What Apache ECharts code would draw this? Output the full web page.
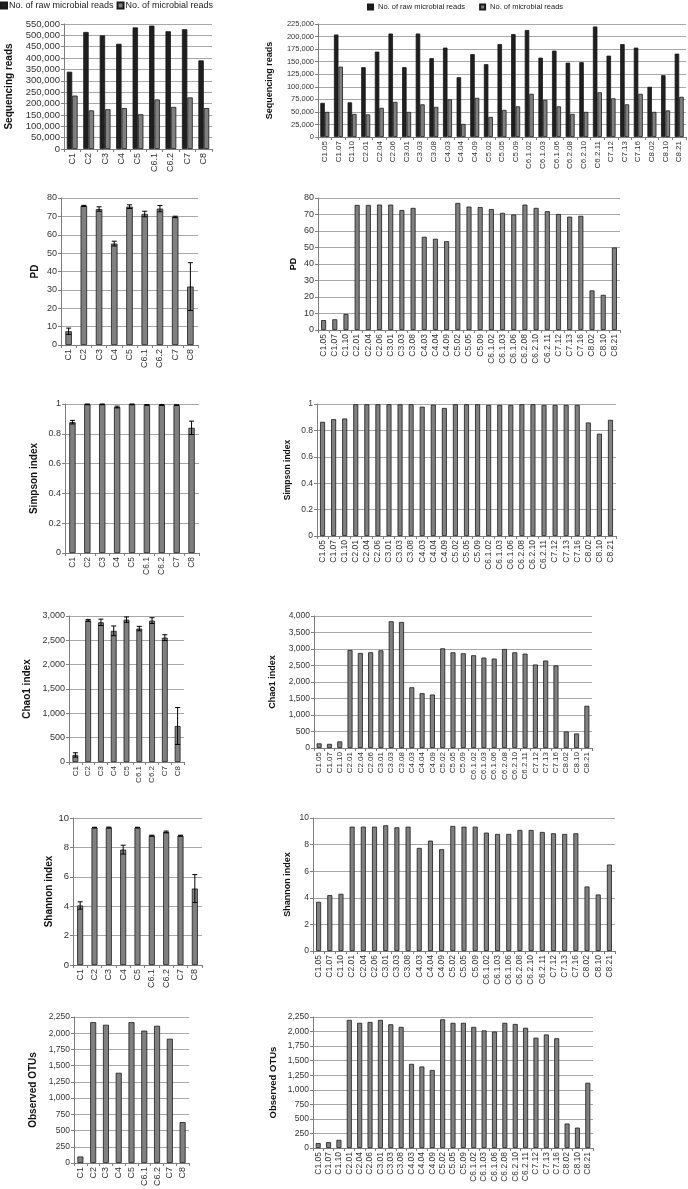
<!DOCTYPE html>
<html><head><meta charset="utf-8">
<script src="https://cdn.jsdelivr.net/npm/echarts@6/dist/echarts.min.js"></script>
<style>html,body{margin:0;padding:0;background:#fff}#c{width:688px;height:1189px}</style>
</head><body><div id="c"></div>
<script>
// ---------- DATA ----------
const groups = ['C1','C2','C3','C4','C5','C6.1','C6.2','C7','C8'];
const samples = ['C1.05','C1.07','C1.10','C2.01','C2.04','C2.06','C3.01','C3.03','C3.08','C4.03','C4.04','C4.09','C5.02','C5.05','C5.09','C6.1.02','C6.1.03','C6.1.06','C6.2.08','C6.2.10','C6.2.11','C7.12','C7.13','C7.16','C8.02','C8.10','C8.21'];
const seriesNames = ['No. of raw microbial reads','No. of microbial reads'];

const rawGroup   = [340000,515000,500000,463000,535000,543000,518000,527000,390000];
const microGroup = [235000,170000,175000,180000,153000,218000,185000,227000,180000];
const rawSample   = [68000,204000,69000,139000,170000,206000,139000,206000,157000,178000,119000,165000,145000,185000,205000,213000,158000,172000,148000,149000,220000,162000,185000,178000,100000,123000,166000];
const microSample = [50000,140000,46000,45000,58000,70000,50000,65000,60000,75000,26000,78000,40000,54000,61000,86000,74000,61000,46000,50000,89000,77000,65000,86000,50000,53000,80000];

const pdGroup    = [7.5,75.7,74,55.2,75.3,71.3,74.2,69.7,31.8];
const pdGroupErr = [1.7,0.3,1.2,1.3,1.0,1.5,1.7,0.4,13];
const pdSample   = [6,6.5,9.7,75.8,75.8,76,76,72.7,74,56.5,55.3,53.8,77,74.8,74.5,73.3,71,70,76,74,72,70.3,68.7,69.2,24,21.3,50];

const simpsonGroup    = [0.878,0.998,0.998,0.98,0.998,0.994,0.994,0.993,0.84];
const simpsonGroupErr = [0.012,0.002,0.002,0.006,0.002,0.002,0.003,0.002,0.045];
const simpsonSample   = [0.865,0.885,0.89,0.998,0.998,0.998,0.998,0.998,0.998,0.98,0.995,0.97,0.998,0.998,0.998,0.993,0.993,0.993,0.998,0.998,0.993,0.993,0.993,0.993,0.86,0.775,0.88];

const chaoGroup    = [145,2910,2870,2695,2925,2742,2905,2555,740];
const chaoGroupErr = [45,20,65,100,55,45,60,60,380];
const chaoSample   = [140,125,200,2970,2880,2900,2960,3840,3820,1840,1660,1620,3020,2900,2870,2810,2740,2710,3000,2900,2860,2530,2650,2500,500,440,1280];

const shannonGroup    = [4.05,9.35,9.35,7.85,9.35,8.8,9.05,8.8,5.2];
const shannonGroupErr = [0.25,0.02,0.03,0.3,0.02,0.03,0.06,0.03,0.95];
const shannonSample   = [3.7,4.2,4.3,9.35,9.35,9.35,9.45,9.3,9.35,7.75,8.3,7.65,9.4,9.35,9.35,8.9,8.8,8.8,9.1,9.1,8.95,8.85,8.8,8.85,4.85,4.25,6.5];

const otuGroup  = [100,2170,2130,1390,2170,2040,2115,1915,630];
const otuSample = [85,100,140,2200,2150,2165,2200,2125,2080,1445,1400,1340,2210,2150,2150,2080,2020,2000,2150,2130,2065,1895,1950,1885,420,350,1120];

// ---------- CHART ----------
const FONT = '"Liberation Sans", Arial, sans-serif';
const GRAY = '#808080', BLACK = '#1f1f1f', EDGE = '#1a1a1a';
const grids = [], xAxes = [], yAxes = [], series = [];
function fmt(v){ return v >= 1000 ? v.toLocaleString('en-US') : String(v); }

function addPanel(rect, cats, y, xfs){
  const i = grids.length;
  grids.push({left:rect[0], top:rect[1], width:rect[2], height:rect[3]});
  xAxes.push({type:'category', gridIndex:i, data:cats,
    axisLine:{lineStyle:{color:'#7f7f7f'}},
    axisTick:{show:true, alignWithLabel:false, interval:0, length:3, lineStyle:{color:'#7f7f7f'}},
    axisLabel:{rotate:90, interval:0, fontSize:xfs, color:'#333', fontFamily:FONT, margin:4},
    splitLine:{show:false}});
  yAxes.push({type:'value', gridIndex:i, min:0, max:y.max, interval:y.interval,
    name:y.name, nameLocation:'middle', nameRotate:90, nameGap:y.gap,
    nameTextStyle:{fontWeight:'bold', fontSize:y.nfs, fontFamily:FONT, color:'#111'},
    axisLine:{show:true, lineStyle:{color:'#7f7f7f'}},
    axisTick:{show:true, length:3, lineStyle:{color:'#7f7f7f'}},
    axisLabel:{fontSize:y.fs, color:'#333', fontFamily:FONT, margin:4, formatter:fmt},
    splitLine:{show:true, lineStyle:{color:'#a8a8a8', width:1}}});
  return i;
}
function bar(i, data, color, width, name){
  series.push({type:'bar', name:name, xAxisIndex:i, yAxisIndex:i, data:data, barWidth:width, barGap:'0%',
    itemStyle:{color:color, borderColor:EDGE, borderWidth:0.8}, silent:true, animation:false});
}
function errBars(i, vals, errs){
  series.push({type:'custom', xAxisIndex:i, yAxisIndex:i, silent:true, animation:false, z:10,
    data: vals.map((v,k)=>[k, v-errs[k], v+errs[k]]),
    renderItem(params, api){
      const lo = api.coord([api.value(0), api.value(1)]);
      const hi = api.coord([api.value(0), api.value(2)]);
      const hw = 2.5, st = {stroke:'#000', lineWidth:1};
      return {type:'group', children:[
        {type:'line', shape:{x1:lo[0], y1:lo[1], x2:hi[0], y2:hi[1]}, style:st},
        {type:'line', shape:{x1:lo[0]-hw, y1:lo[1], x2:lo[0]+hw, y2:lo[1]}, style:st},
        {type:'line', shape:{x1:hi[0]-hw, y1:hi[1], x2:hi[0]+hw, y2:hi[1]}, style:st}]};
    }});
}

// Row 1: sequencing reads
let i = addPanel([64,24,148,125], groups, {max:550000, interval:50000, name:'Sequencing reads', gap:50, nfs:10, fs:9.5}, 9);
bar(i, rawGroup, BLACK, 5.4, seriesNames[0]); bar(i, microGroup, GRAY, 5.4, seriesNames[1]);
i = addPanel([318,24,368,113], samples, {max:225000, interval:25000, name:'Sequencing reads', gap:44, nfs:9, fs:7.5}, 8);
bar(i, rawSample, BLACK, 4.5, seriesNames[0]); bar(i, microSample, GRAY, 4.5, seriesNames[1]);

// Row 2: PD
i = addPanel([61,198,137,147], groups, {max:80, interval:10, name:'PD', gap:21, nfs:10, fs:9}, 9);
bar(i, pdGroup, GRAY, 6.5); errBars(i, pdGroup, pdGroupErr);
i = addPanel([318,198,302,132], samples, {max:80, interval:10, name:'PD', gap:20, nfs:9, fs:9}, 8.5);
bar(i, pdSample, GRAY, 5);

// Row 3: Simpson
i = addPanel([65,404,134,149], groups, {max:1, interval:0.2, name:'Simpson index', gap:26, nfs:10, fs:9}, 8.5);
bar(i, simpsonGroup, GRAY, 6.3); errBars(i, simpsonGroup, simpsonGroupErr);
i = addPanel([317,404,299,132], samples, {max:1, interval:0.2, name:'Simpson index', gap:25, nfs:8.5, fs:8.5}, 8.5);
bar(i, simpsonSample, GRAY, 5);

// Row 4: Chao1
i = addPanel([69,616,115,146], groups, {max:3000, interval:500, name:'Chao1 index', gap:37, nfs:10, fs:9}, 8);
bar(i, chaoGroup, GRAY, 5.8); errBars(i, chaoGroup, chaoGroupErr);
i = addPanel([314,616,278,132], samples, {max:4000, interval:500, name:'Chao1 index', gap:37, nfs:9, fs:8.5}, 8);
bar(i, chaoSample, GRAY, 5);

// Row 5: Shannon
i = addPanel([73,818,129,147], groups, {max:10, interval:2, name:'Shannon index', gap:19, nfs:10, fs:9.5}, 9);
bar(i, shannonGroup, GRAY, 6); errBars(i, shannonGroup, shannonGroupErr);
i = addPanel([313,818,302,133], samples, {max:10, interval:2, name:'Shannon index', gap:21, nfs:9, fs:8.5}, 8.5);
bar(i, shannonSample, GRAY, 5);

// Row 6: Observed OTUs
i = addPanel([74,1017,115,146], groups, {max:2250, interval:250, name:'Observed OTUs', gap:36, nfs:10, fs:8.5}, 9);
bar(i, otuGroup, GRAY, 6);
i = addPanel([313,1017,280,131], samples, {max:2250, interval:250, name:'Observed OTUs', gap:35, nfs:9.5, fs:8.5}, 8.5);
bar(i, otuSample, GRAY, 5);

const chart = echarts.init(document.getElementById('c'), null, {renderer:'canvas'});
chart.setOption({
  animation:false,
  textStyle:{fontFamily:FONT},
  legend:[
    {left:0, top:1, padding:0, itemWidth:6, itemHeight:6, itemGap:3, icon:'rect', data:seriesNames,
     textStyle:{fontSize:9, color:'#222', fontFamily:FONT, padding:[0,0,0,-3]}},
    {left:367, top:3, padding:0, itemWidth:5, itemHeight:5, itemGap:14, icon:'rect', data:seriesNames,
     textStyle:{fontSize:7.5, color:'#222', fontFamily:FONT}}
  ],
  grid:grids, xAxis:xAxes, yAxis:yAxes, series:series
});
</script></body></html>
